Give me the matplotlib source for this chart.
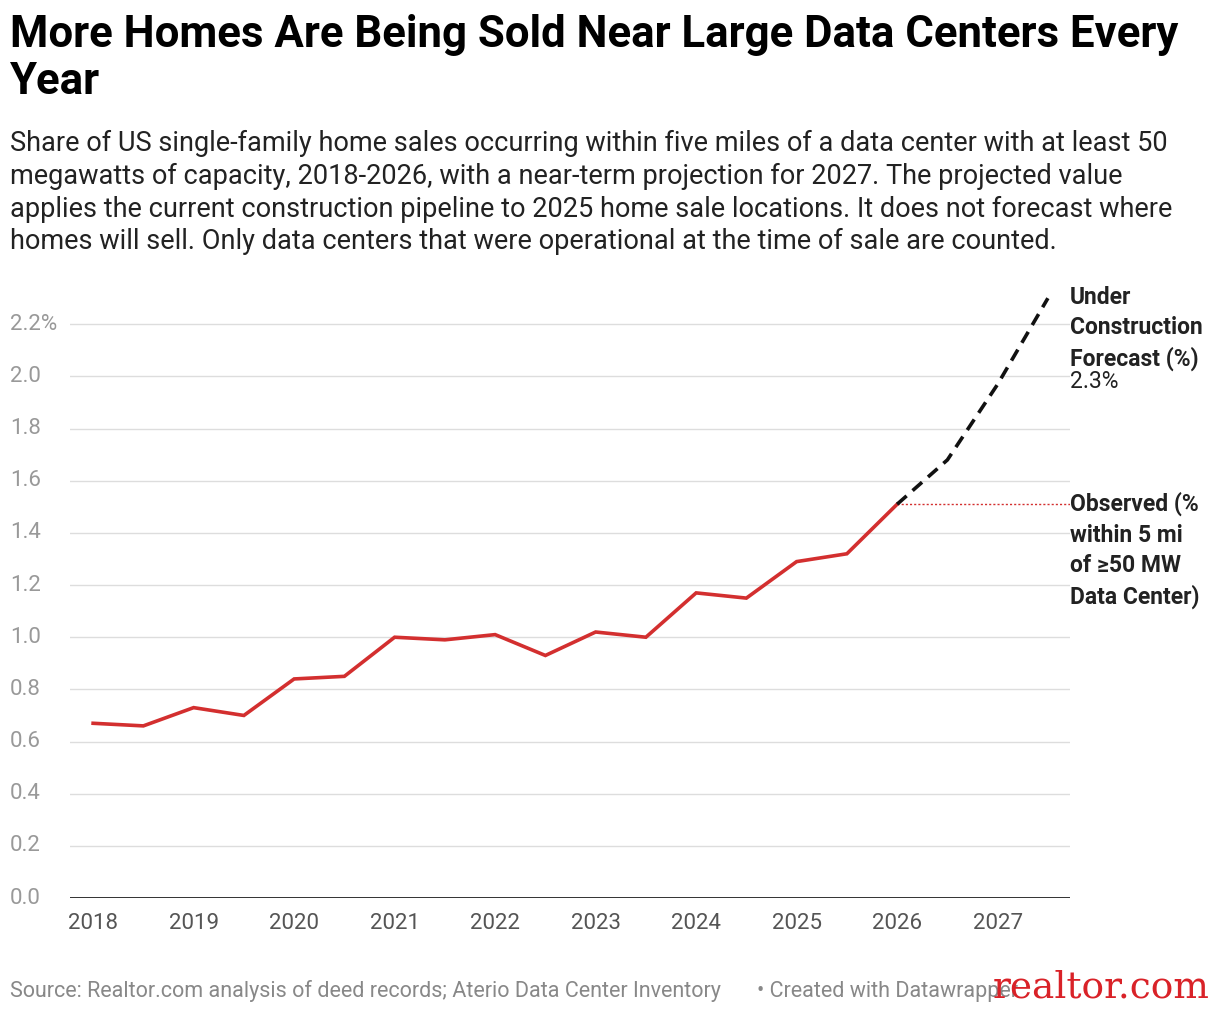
import matplotlib
matplotlib.use("Agg")
import matplotlib.pyplot as plt
from matplotlib.transforms import blended_transform_factory

obs_x = [2018, 2018.5, 2019, 2019.5, 2020, 2020.5, 2021, 2021.5, 2022, 2022.5,
         2023, 2023.5, 2024, 2024.5, 2025, 2025.5, 2026]
obs_y = [0.67, 0.66, 0.73, 0.70, 0.84, 0.85, 1.00, 0.99, 1.01, 0.93,
         1.02, 1.00, 1.17, 1.15, 1.29, 1.32, 1.51]
fc_x = [2026, 2026.5, 2027, 2027.5]
fc_y = [1.51, 1.68, 1.97, 2.30]
yticks = [0.0, 0.2, 0.4, 0.6, 0.8, 1.0, 1.2, 1.4, 1.6, 1.8, 2.0, 2.2]
ylabels = ["0.0", "0.2", "0.4", "0.6", "0.8", "1.0", "1.2", "1.4", "1.6", "1.8", "2.0", "2.2%"]
xticks = list(range(2018, 2028))

plt.rcParams['font.family'] = ['Roboto', 'DejaVu Sans']
fig = plt.figure(figsize=(12.2, 10.14), dpi=100)
ax = fig.add_axes([70/1220, 116/1014, 1000/1220, 605/1014])
ax.set_xlim(2017.77, 2027.72)
ax.set_ylim(0, 2.32)
for y in yticks[1:]:
    ax.axhline(y, color="#dddddd", lw=1, zorder=0)
ax.axhline(0, color="#222222", lw=1.3, zorder=1)
ax.plot(obs_x, obs_y, color="#d32f2f", lw=2.6, zorder=3, solid_joinstyle="miter")
ax.plot(fc_x, fc_y, color="#111111", lw=2.6, ls=(0, (3.5, 2.2)), zorder=3)
ax.plot([2026, 2027.72], [1.51, 1.51], color="#d32f2f", lw=1, ls=(0, (1.5, 1.5)), zorder=2)
for s in ax.spines.values():
    s.set_visible(False)
ax.set_yticks([])
ax.set_xticks(xticks)
ax.set_xticklabels([str(x) for x in xticks], fontsize=16, color="#555555")
ax.tick_params(axis="x", length=0, pad=11)
tr = blended_transform_factory(fig.transFigure, ax.transData)
for y, l in zip(yticks, ylabels):
    fig.text(10/1220, y, l, transform=tr, fontsize=16, color="#999999", va="center", ha="left")

fig.text(10/1220, 1-14/1014, "More Homes Are Being Sold Near Large Data Centers Every\nYear",
         fontsize=31.5, fontweight="bold", va="top", ha="left", linespacing=1.15)
fig.text(10/1220, 1-130/1014,
         "Share of US single-family home sales occurring within five miles of a data center with at least 50\n"
         "megawatts of capacity, 2018-2026, with a near-term projection for 2027. The projected value\n"
         "applies the current construction pipeline to 2025 home sale locations. It does not forecast where\n"
         "homes will sell. Only data centers that were operational at the time of sale are counted.",
         fontsize=19.5, va="top", ha="left", color="#222222", linespacing=1.27)
fig.text(1070/1220, 1-286/1014, "Under\nConstruction\nForecast (%)", fontsize=16.5, fontweight="bold",
         va="top", ha="left", color="#222222", linespacing=1.4)
fig.text(1070/1220, 1-370/1014, "2.3%", fontsize=16.5, va="top", ha="left", color="#222222")
fig.text(1070/1220, 1-492/1014, "Observed (%\nwithin 5 mi\nof ≥50 MW\nData Center)", fontsize=16.5,
         fontweight="bold", va="top", ha="left", color="#222222", linespacing=1.4)
fig.text(10/1220, 1-991/1014, "Source: Realtor.com analysis of deed records; Aterio Data Center Inventory",
         fontsize=15.5, color="#888888", va="center", ha="left")
fig.text(757/1220, 1-991/1014, "• Created with Datawrapper", fontsize=15.5, color="#888888", va="center", ha="left")
fig.text(1210/1220, 1-988/1014, "realtor.com", fontsize=27, color="#d92228", va="center", ha="right",
         family=["DejaVu Serif"])
fig.savefig("out.png", dpi=100)
